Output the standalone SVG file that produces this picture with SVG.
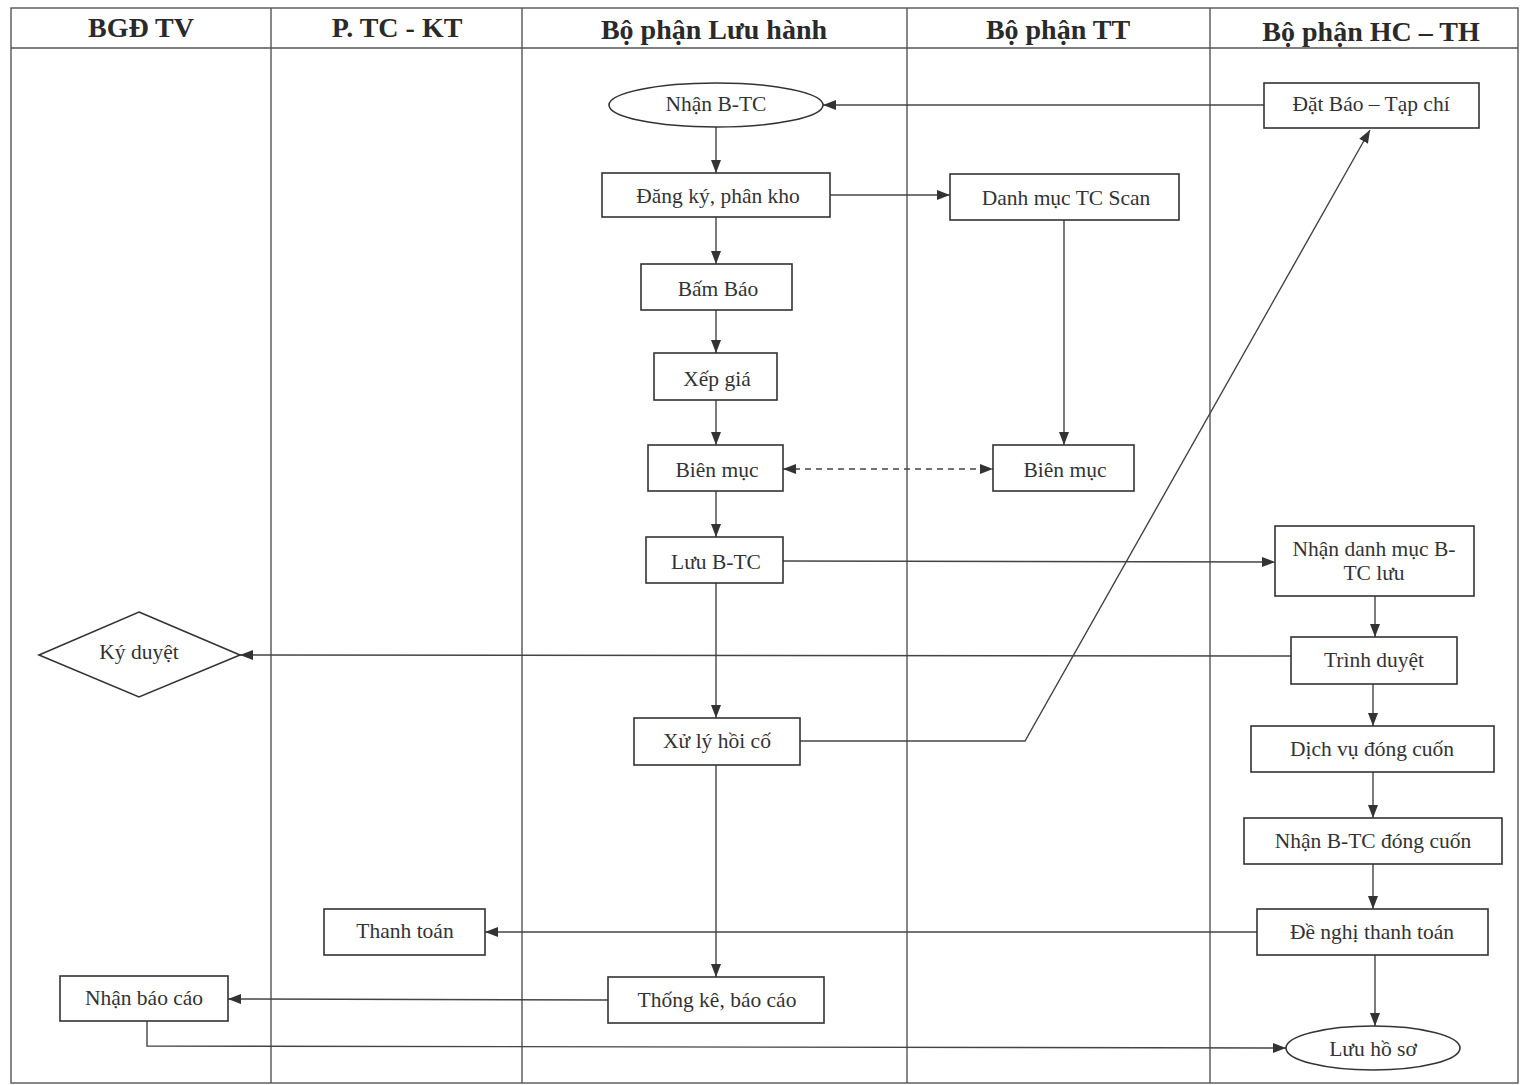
<svg xmlns="http://www.w3.org/2000/svg" width="1520" height="1085" viewBox="0 0 1520 1085">
  <defs>
    <marker id="arr" viewBox="0 0 13 10" refX="13" refY="5" markerWidth="13" markerHeight="10" markerUnits="userSpaceOnUse" orient="auto-start-reverse">
      <path d="M0,0 L13,5 L0,10 Z" fill="#333"/>
    </marker>
  </defs>
  <style>
    .lane { fill: none; stroke: #555; stroke-width: 1.4; }
    .head { font-family: "Liberation Serif", "Times New Roman", serif; font-weight: bold; font-size: 28px; fill: #2a2a2a; text-anchor: middle; }
    .box { fill: #fff; stroke: #333; stroke-width: 1.6; }
    .lbl { font-family: "Liberation Serif", "Times New Roman", serif; font-size: 21.5px; fill: #333; text-anchor: middle; dominant-baseline: central; }
    .ln { fill: none; stroke: #444; stroke-width: 1.4; }
    .dash { stroke-dasharray: 6 5; }
  </style>
  <rect width="1520" height="1085" fill="#fff"/>

  <!-- swimlane frame -->
  <g id="lanes">
    <rect class="lane" x="11" y="8" width="1507" height="1075"/>
    <line class="lane" x1="11" y1="48" x2="1518" y2="48"/>
    <line class="lane" x1="271" y1="8" x2="271" y2="1083"/>
    <line class="lane" x1="522" y1="8" x2="522" y2="1083"/>
    <line class="lane" x1="907" y1="8" x2="907" y2="1083"/>
    <line class="lane" x1="1210" y1="8" x2="1210" y2="1083"/>
    <text class="head" x="141" y="37">BGĐ TV</text>
    <text class="head" x="397" y="37">P. TC - KT</text>
    <text class="head" x="714" y="39">Bộ phận Lưu hành</text>
    <text class="head" x="1058" y="39">Bộ phận TT</text>
    <text class="head" x="1371" y="41">Bộ phận HC – TH</text>
  </g>

  <!-- connectors -->
  <g id="connectors">
    <line class="ln" x1="1264" y1="105" x2="823" y2="105" marker-end="url(#arr)"/>
    <line class="ln" x1="716" y1="127" x2="716" y2="173" marker-end="url(#arr)"/>
    <line class="ln" x1="830" y1="195" x2="950" y2="195" marker-end="url(#arr)"/>
    <line class="ln" x1="716" y1="217" x2="716" y2="264" marker-end="url(#arr)"/>
    <line class="ln" x1="716" y1="310" x2="716" y2="353" marker-end="url(#arr)"/>
    <line class="ln" x1="716" y1="400" x2="716" y2="445" marker-end="url(#arr)"/>
    <line class="ln" x1="716" y1="491" x2="716" y2="537" marker-end="url(#arr)"/>
    <line class="ln" x1="1064" y1="220" x2="1064" y2="445" marker-end="url(#arr)"/>
    <line class="ln dash" x1="783" y1="469" x2="993" y2="469" marker-start="url(#arr)" marker-end="url(#arr)"/>
    <line class="ln" x1="783" y1="561" x2="1275" y2="562" marker-end="url(#arr)"/>
    <line class="ln" x1="716" y1="583" x2="716" y2="718" marker-end="url(#arr)"/>
    <polyline class="ln" points="800,741 1025,741 1370,130" marker-end="url(#arr)"/>
    <line class="ln" x1="1375" y1="596" x2="1375" y2="637" marker-end="url(#arr)"/>
    <line class="ln" x1="1291" y1="656" x2="240" y2="655" marker-end="url(#arr)"/>
    <line class="ln" x1="1373" y1="684" x2="1373" y2="726" marker-end="url(#arr)"/>
    <line class="ln" x1="1373" y1="772" x2="1373" y2="818" marker-end="url(#arr)"/>
    <line class="ln" x1="1373" y1="864" x2="1373" y2="909" marker-end="url(#arr)"/>
    <line class="ln" x1="1257" y1="932" x2="485" y2="932" marker-end="url(#arr)"/>
    <line class="ln" x1="1375" y1="955" x2="1375" y2="1026" marker-end="url(#arr)"/>
    <line class="ln" x1="716" y1="765" x2="716" y2="977" marker-end="url(#arr)"/>
    <line class="ln" x1="608" y1="1000" x2="228" y2="999" marker-end="url(#arr)"/>
    <polyline class="ln" points="147,1021 147,1046 1286,1048" marker-end="url(#arr)"/>
  </g>

  <!-- nodes -->
  <g id="n-nhan-btc"><ellipse class="box" cx="716" cy="105" rx="107" ry="22"/><text class="lbl" x="716" y="104">Nhận B-TC</text></g>
  <g id="n-dat-bao"><rect class="box" x="1264" y="83" width="215" height="45"/><text class="lbl" x="1371" y="104">Đặt Báo – Tạp chí</text></g>
  <g id="n-dang-ky"><rect class="box" x="602" y="173" width="228" height="44"/><text class="lbl" x="718" y="196">Đăng ký, phân kho</text></g>
  <g id="n-danh-muc"><rect class="box" x="950" y="174" width="229" height="46"/><text class="lbl" x="1066" y="198">Danh mục TC Scan</text></g>
  <g id="n-bam-bao"><rect class="box" x="641" y="264" width="151" height="46"/><text class="lbl" x="718" y="289">Bấm Báo</text></g>
  <g id="n-xep-gia"><rect class="box" x="654" y="353" width="123" height="47"/><text class="lbl" x="717" y="379">Xếp giá</text></g>
  <g id="n-bien-muc-1"><rect class="box" x="648" y="445" width="135" height="46"/><text class="lbl" x="717" y="470">Biên mục</text></g>
  <g id="n-bien-muc-2"><rect class="box" x="993" y="445" width="141" height="46"/><text class="lbl" x="1065" y="470">Biên mục</text></g>
  <g id="n-luu-btc"><rect class="box" x="646" y="537" width="137" height="46"/><text class="lbl" x="716" y="562">Lưu B-TC</text></g>
  <g id="n-nhan-dm"><rect class="box" x="1275" y="526" width="199" height="70"/><text class="lbl" x="1374" y="549">Nhận danh mục B-</text><text class="lbl" x="1374" y="573">TC lưu</text></g>
  <g id="n-ky-duyet"><polygon class="box" points="139,612 240,655 139,697 39,655"/><text class="lbl" x="139" y="652">Ký duyệt</text></g>
  <g id="n-trinh-duyet"><rect class="box" x="1291" y="637" width="166" height="47"/><text class="lbl" x="1374" y="660">Trình duyệt</text></g>
  <g id="n-xu-ly"><rect class="box" x="634" y="718" width="166" height="47"/><text class="lbl" x="717" y="741">Xử lý hồi cố</text></g>
  <g id="n-dich-vu"><rect class="box" x="1251" y="726" width="243" height="46"/><text class="lbl" x="1372" y="749">Dịch vụ đóng cuốn</text></g>
  <g id="n-nhan-dong-cuon"><rect class="box" x="1244" y="818" width="258" height="46"/><text class="lbl" x="1373" y="841">Nhận B-TC đóng cuốn</text></g>
  <g id="n-thanh-toan"><rect class="box" x="324" y="909" width="161" height="46"/><text class="lbl" x="405" y="931">Thanh toán</text></g>
  <g id="n-de-nghi"><rect class="box" x="1257" y="909" width="231" height="46"/><text class="lbl" x="1372" y="932">Đề nghị thanh toán</text></g>
  <g id="n-nhan-bao-cao"><rect class="box" x="60" y="976" width="168" height="45"/><text class="lbl" x="144" y="998">Nhận báo cáo</text></g>
  <g id="n-thong-ke"><rect class="box" x="608" y="977" width="216" height="46"/><text class="lbl" x="717" y="1000">Thống kê, báo cáo</text></g>
  <g id="n-luu-ho-so"><ellipse class="box" cx="1373" cy="1048" rx="87" ry="22"/><text class="lbl" x="1373" y="1049">Lưu hồ sơ</text></g>
</svg>
